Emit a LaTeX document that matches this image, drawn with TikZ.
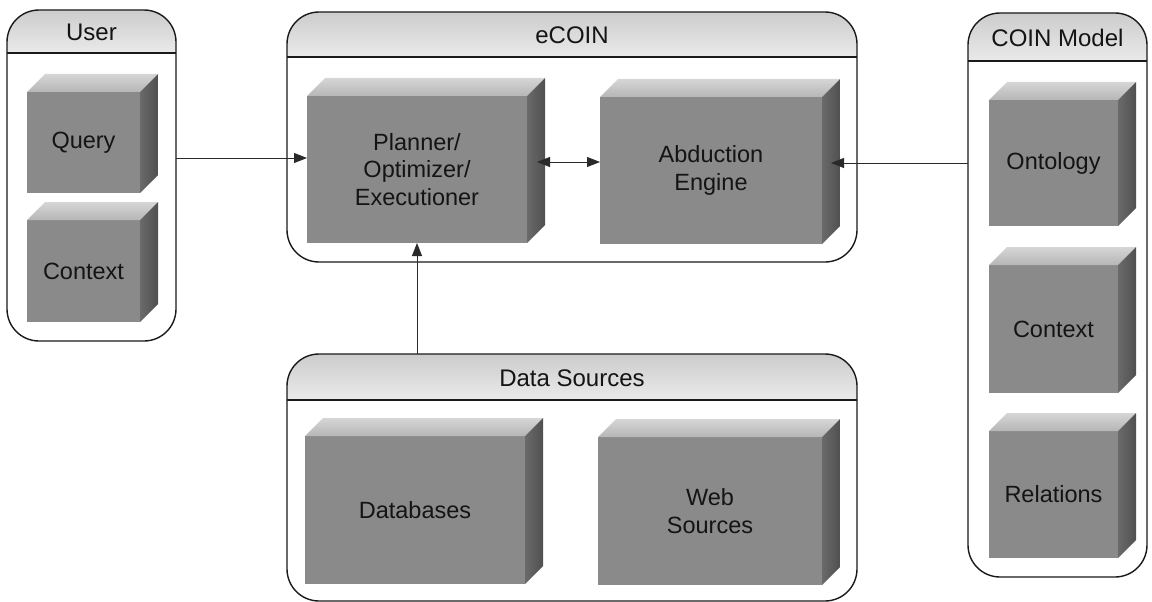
\documentclass[tikz,border=0pt]{standalone}
\usepackage{fontspec}
\setmainfont{Liberation Sans}
\usetikzlibrary{arrows.meta,calc}

\definecolor{frontgray}{HTML}{8A8A8A}
\definecolor{topback}{HTML}{D6D6D6}
\definecolor{topfront}{HTML}{B6B6B6}
\definecolor{sidelight}{HTML}{6A6A6A}
\definecolor{sidedark}{HTML}{505050}
\definecolor{headtop}{HTML}{CCCCCC}
\definecolor{headbot}{HTML}{EAEAEA}
\definecolor{inkline}{HTML}{1A1A1A}
\definecolor{connline}{HTML}{2A2A2A}

\tikzset{
  cubefront/.style={fill=frontgray, inner sep=0pt, outer sep=0pt,
    align=center, text=black!92, font=\fontsize{23.5}{27.5}\selectfont},
  panelnode/.style={inner sep=0pt, outer sep=0pt},
  paneltitle/.style={text=black!92, font=\fontsize{24}{28}\selectfont},
  panelline/.style={draw=inkline, line width=1.4pt},
  conn/.style={draw=connline, line width=0.9pt,
    -{Triangle[length=13pt,width=10pt]}},
  conntwo/.style={draw=connline, line width=0.9pt,
    {Triangle[length=13pt,width=10pt]}-{Triangle[length=13pt,width=10pt]}},
}

% A grey block drawn as a box seen from the upper right:
% name, left, top, right, bottom of the front face, label
\newcommand\blockbox[6]{%
  \node[cubefront, anchor=north west,
        minimum width={(#4-#2)*1pt}, minimum height={(#5-#3)*1pt}]
        (#1) at (#2,#3) {#6};
  \shade[top color=topback, bottom color=topfront]
    (#1.north west) -- ++(18,-18) -- ($(#1.north east)+(18,-18)$)
    -- (#1.north east) -- cycle;
  \shade[left color=sidelight, right color=sidedark]
    (#1.north east) -- ++(18,-18) -- ($(#1.south east)+(18,-18)$)
    -- (#1.south east) -- cycle;
}

% A rounded panel with a shaded title band:
% name, left, top, right, bottom, y of the band's lower line, title
\newcommand\panelbox[7]{%
  \node[panelnode, anchor=north west,
        minimum width={(#4-#2)*1pt}, minimum height={(#5-#3)*1pt}]
        (#1) at (#2,#3) {};
  \fill[white, rounded corners=32pt] (#1.north west) rectangle (#1.south east);
  \begin{scope}
    \clip[rounded corners=32pt] (#1.north west) rectangle (#1.south east);
    \shade[top color=headtop, bottom color=headbot]
      (#1.north west) rectangle (#4,#6);
  \end{scope}
  \draw[panelline] (#2,#6) -- (#4,#6);
  \draw[panelline, rounded corners=32pt] (#1.north west) rectangle (#1.south east);
  \node[paneltitle] (#1-title) at ({(#2+#4)/2},{(#3+#6)/2+1}) {#7};
}

\begin{document}
\begin{tikzpicture}[x=1pt, y=-1pt]
  \useasboundingbox (0,0) rectangle (1152,602);

  % panels
  \panelbox{user}{7}{10}{176}{341}{53}{User}
  \panelbox{ecoin}{287}{12}{857}{262}{57}{eCOIN}
  \panelbox{data}{287}{354}{857}{601}{400}{Data Sources}
  \panelbox{coin}{968}{13}{1147}{577}{61}{COIN Model}

  % blocks inside the panels
  \blockbox{query}{27}{92}{140}{193}{Query}
  \blockbox{ucontext}{27}{220}{140}{322}{Context}

  \blockbox{planner}{307}{96}{527}{243}{Planner/\\Optimizer/\\Executioner}
  \blockbox{abduction}{600}{97}{822}{244}{Abduction\\Engine}

  \blockbox{databases}{305}{436}{525}{584}{Databases}
  \blockbox{web}{598}{437}{822}{585}{Web\\Sources}

  \blockbox{ontology}{989}{100}{1118}{226}{Ontology}
  \blockbox{ccontext}{989}{265}{1118}{393}{Context}
  \blockbox{relations}{989}{431}{1118}{558}{Relations}

  % connectors
  \draw[conn] (user.east |- 0,158) -- (planner.west |- 0,158);
  \draw[conntwo] ($(planner.east |- 0,162)+(10,0)$) -- (abduction.west |- 0,162);
  \draw[conn] (coin.west |- 0,163) -- ($(abduction.east |- 0,163)+(9,0)$);
  \draw[conn] (data.north -| planner.south) -- (planner.south);
\end{tikzpicture}
\end{document}
